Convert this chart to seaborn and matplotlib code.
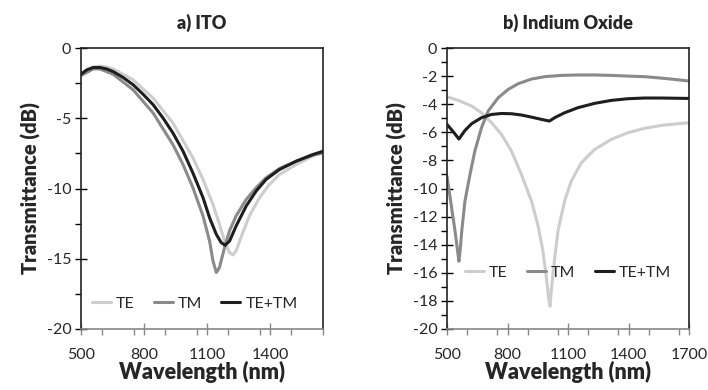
import numpy as np
import pandas as pd
import matplotlib
matplotlib.use("Agg")
import matplotlib.pyplot as plt
import seaborn as sns
from matplotlib.ticker import MultipleLocator

sns.set_theme(style="white")
plt.rcParams['font.family'] = ['Lato', 'DejaVu Sans']

# ---- a) ITO ----
ito_te_wl = [500, 558, 590, 622, 653, 748, 843, 937, 1032, 1080, 1127, 1158, 1182, 1206, 1222, 1237, 1269, 1300, 1348, 1395, 1443, 1522, 1600, 1651]
ito_te = [-1.8, -1.35, -1.28, -1.35, -1.49, -2.27, -3.57, -5.34, -7.82, -9.36, -11.13, -12.55, -13.74, -14.56, -14.73, -14.44, -13.14, -11.96, -10.66, -9.72, -9.0, -8.3, -7.7, -7.3]

ito_tm_wl = [500, 558, 590, 653, 748, 843, 937, 985, 1032, 1080, 1111, 1127, 1143, 1158, 1182, 1206, 1237, 1285, 1332, 1379, 1443, 1522, 1600, 1651]
ito_tm = [-1.96, -1.49, -1.49, -1.87, -2.98, -4.63, -6.88, -8.3, -9.95, -11.96, -13.74, -15.15, -15.98, -15.63, -14.2, -13.0, -11.96, -10.78, -9.95, -9.24, -8.58, -8.06, -7.64, -7.47]

ito_sum_wl = [500, 527, 558, 590, 622, 653, 700, 748, 795, 843, 890, 937, 985, 1032, 1080, 1111, 1143, 1166, 1185, 1206, 1237, 1285, 1332, 1379, 1443, 1522, 1600, 1651]
ito_sum = [-1.87, -1.56, -1.39, -1.39, -1.49, -1.68, -2.1, -2.62, -3.29, -4.04, -4.99, -6.05, -7.35, -8.9, -10.66, -12.08, -13.26, -13.85, -14.04, -13.74, -12.67, -11.25, -10.19, -9.36, -8.65, -8.06, -7.59, -7.35]

# ---- b) Indium Oxide ----
ino_te_wl = [500, 556, 622, 671, 721, 770, 820, 869, 919, 952, 976, 993, 1004, 1011, 1017, 1034, 1050, 1083, 1116, 1166, 1232, 1314, 1397, 1479, 1561, 1644, 1700]
ino_te = [-3.47, -3.73, -4.13, -4.61, -5.32, -6.15, -7.34, -9.0, -10.9, -12.68, -14.47, -16.37, -17.8, -18.38, -17.3, -14.94, -13.04, -10.9, -9.48, -8.17, -7.22, -6.51, -6.03, -5.72, -5.51, -5.39, -5.32]

ino_tm_wl = [500, 523, 540, 552, 559, 566, 573, 589, 614, 638, 671, 704, 754, 803, 853, 919, 985, 1067, 1149, 1232, 1314, 1397, 1479, 1561, 1644, 1700]
ino_tm = [-9.12, -11.38, -13.04, -14.4, -15.18, -14.3, -13.04, -10.9, -9.0, -7.34, -5.68, -4.49, -3.54, -2.95, -2.54, -2.21, -2.04, -1.95, -1.92, -1.92, -1.95, -2.0, -2.04, -2.14, -2.26, -2.35]

ino_sum_wl = [500, 531, 559, 589, 622, 671, 721, 770, 820, 869, 919, 968, 1008, 1034, 1083, 1149, 1232, 1314, 1397, 1479, 1561, 1700]
ino_sum = [-5.44, -5.96, -6.48, -5.87, -5.39, -4.96, -4.73, -4.66, -4.68, -4.77, -4.92, -5.08, -5.2, -4.96, -4.61, -4.25, -3.94, -3.73, -3.61, -3.56, -3.56, -3.59]

series = ["TE", "TM", "TE+TM"]
colors = {"TE": "#cdcdcd", "TM": "#8a8a8a", "TE+TM": "#1e1e1e"}


def make_df(te_wl, te, tm_wl, tm, s_wl, s):
    return pd.concat([
        pd.DataFrame({"wl": te_wl, "T": te, "mode": "TE"}),
        pd.DataFrame({"wl": tm_wl, "T": tm, "mode": "TM"}),
        pd.DataFrame({"wl": s_wl, "T": s, "mode": "TE+TM"}),
    ], ignore_index=True)


df_a = make_df(ito_te_wl, ito_te, ito_tm_wl, ito_tm, ito_sum_wl, ito_sum)
df_b = make_df(ino_te_wl, ino_te, ino_tm_wl, ino_tm, ino_sum_wl, ino_sum)

fig = plt.figure(figsize=(7.08, 3.9), dpi=100)
W, H = 708, 390
ax1 = fig.add_axes([81 / W, 1 - 329 / H, (323 - 81) / W, (329 - 48) / H])
ax2 = fig.add_axes([447 / W, 1 - 329 / H, (689 - 447) / W, (329 - 48) / H])


def style(ax, title, xlim, xticks, ymajor, yminor, legend_loc):
    ax.set_xlim(*xlim)
    ax.set_ylim(-20, 0)
    ax.set_xticks(xticks)
    ax.xaxis.set_minor_locator(MultipleLocator(150))
    ax.yaxis.set_major_locator(MultipleLocator(ymajor))
    ax.yaxis.set_minor_locator(MultipleLocator(yminor))
    ax.tick_params(axis='x', which='major', direction='inout', length=8, width=1, color='#888888',
                   labelsize=11.5, pad=10, bottom=True)
    ax.tick_params(axis='x', which='minor', direction='out', length=4, width=1, color='#888888', bottom=True)
    ax.tick_params(axis='y', which='major', direction='inout', length=8, width=1, color='black',
                   labelsize=11.5, pad=3, left=True)
    ax.tick_params(axis='y', which='minor', direction='out', length=4, width=1, color='black', left=True)
    for sp in ['left', 'top', 'right']:
        ax.spines[sp].set_color('#222222')
        ax.spines[sp].set_linewidth(1.2)
    ax.spines['bottom'].set_color('#888888')
    ax.spines['bottom'].set_linewidth(1.2)
    ax.set_xlabel("Wavelength (nm)", fontsize=15.5, fontweight='heavy', labelpad=-1)
    ax.set_ylabel("Transmittance (dB)", fontsize=14.5, fontweight='heavy', labelpad=4)
    ax.set_title(title, fontsize=13, fontweight='heavy', pad=14)
    ax.legend(loc='center', bbox_to_anchor=legend_loc, ncol=3, frameon=False, fontsize=11.5,
              handlelength=1.2, handletextpad=0.3, columnspacing=1.2)


sns.lineplot(data=df_a, x="wl", y="T", hue="mode", hue_order=series, palette=colors,
             linewidth=2.2, ax=ax1, sort=False)
style(ax1, "a) ITO", (500, 1650), [500, 800, 1100, 1400], 5, 2.5, (0.47, 0.09))

sns.lineplot(data=df_b, x="wl", y="T", hue="mode", hue_order=series, palette=colors,
             linewidth=2.2, ax=ax2, sort=False)
style(ax2, "b) Indium Oxide", (500, 1700), [500, 800, 1100, 1400, 1700], 2, 1, (0.5, 0.2))
ax2.set_yticklabels([f"{int(v)}" for v in ax2.get_yticks()])
ax1.set_yticklabels([f"{int(v)}" for v in ax1.get_yticks()])

fig.savefig("out.png", dpi=100)
